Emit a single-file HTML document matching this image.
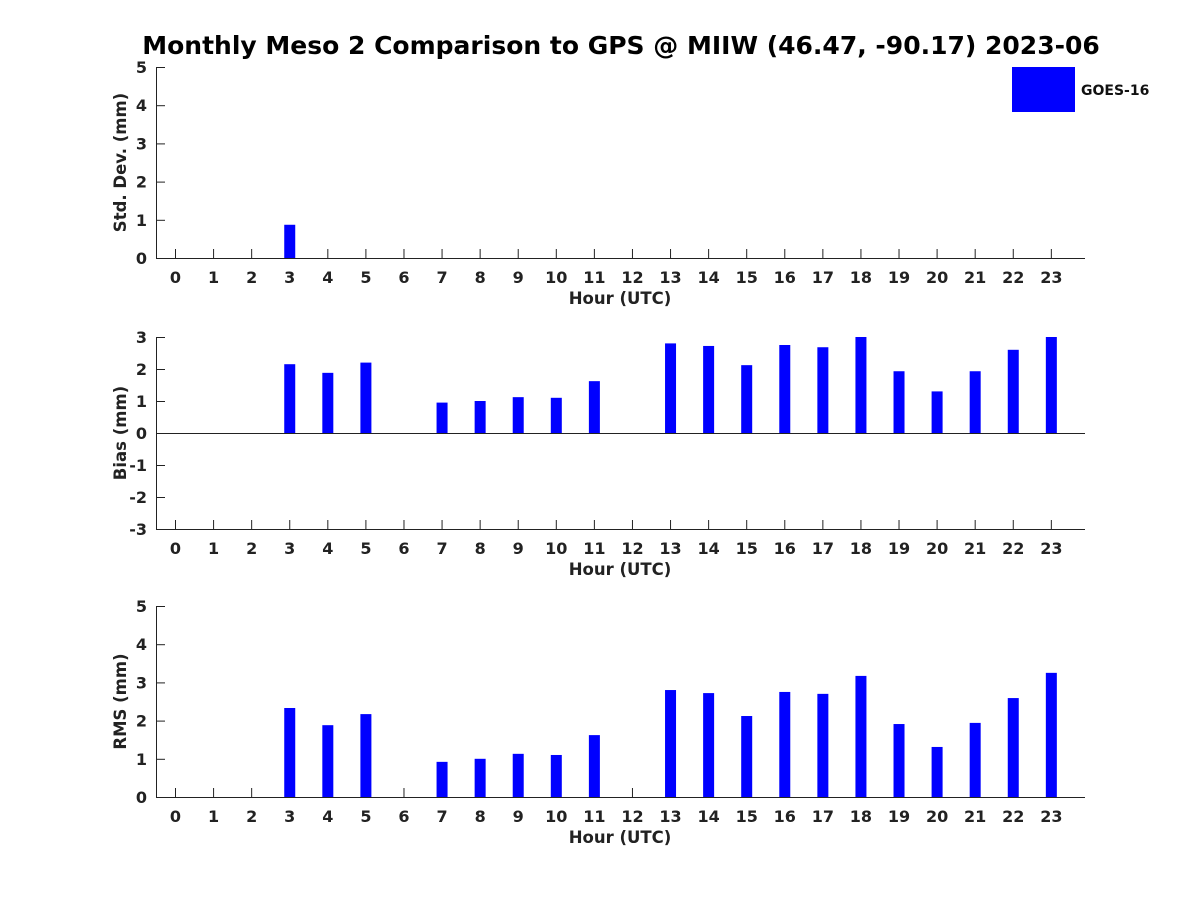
<!DOCTYPE html>
<html><head><meta charset="utf-8"><style>
body{margin:0;background:#fff;}
svg{display:block;font-family:"DejaVu Sans","Liberation Sans",sans-serif;font-weight:bold;}
</style></head><body>
<svg id="c" width="1200" height="900" viewBox="0 0 1200 900">
<text x="621" y="54" text-anchor="middle" font-size="25" fill="#000">Monthly Meso 2 Comparison to GPS @ MIIW (46.47, -90.17) 2023-06</text>
<rect x="1012" y="67" width="63" height="45" fill="#0000ff"/>
<text x="1081" y="95" font-size="14" fill="#111">GOES-16</text>
</svg>
<script>
const hours=[0,1,2,3,4,5,6,7,8,9,10,11,12,13,14,15,16,17,18,19,20,21,22,23];
const stdVals=[null,null,null,0.87,null,null,null,null,null,null,null,null,null,null,null,null,null,null,null,null,null,null,null,null];
const biasVals=[null,null,null,2.15,1.88,2.2,null,0.95,1.0,1.12,1.1,1.62,null,2.8,2.72,2.12,2.75,2.68,3.1,1.93,1.3,1.93,2.6,3.2];
const rmsVals=[null,null,null,2.33,1.88,2.17,null,0.92,1.0,1.13,1.1,1.62,null,2.8,2.72,2.12,2.75,2.7,3.17,1.91,1.31,1.94,2.59,3.25];
const stdTicks=[0,1,2,3,4,5];
const biasTicks=[-3,-2,-1,0,1,2,3];
const rmsTicks=[0,1,2,3,4,5];
const NS="http://www.w3.org/2000/svg";
const svg=document.getElementById('c');
function mk(tag,attrs,parent){const e=document.createElementNS(NS,tag);for(const k in attrs)e.setAttribute(k,attrs[k]);(parent||svg).appendChild(e);return e;}
const x0=156,x1=1085;
function xs(h){return 175.5+h*38.08;}
function panel(key,top,bottom,ymin,ymax,ticks,vals,title){
  const g=mk('g',{});
  
  
  const ys=v=>bottom-(v-ymin)/(ymax-ymin)*(bottom-top);
  const cid='clip-'+key;
  const cp=mk('clipPath',{id:cid},g);mk('rect',{x:x0,y:top,width:x1-x0,height:bottom-top},cp);
  // x ticks first (bars cover them)
  hours.forEach(h=>{
    mk('line',{x1:xs(h),x2:xs(h),y1:bottom,y2:bottom-9,stroke:'#222','stroke-width':1},g);
    const t=mk('text',{x:xs(h),y:bottom+25,'text-anchor':'middle','font-size':16,fill:'#222'},g);
    t.textContent=h;
    
    
  });
  vals.forEach((v,i)=>{
    if(v==null)return;
    const y0=ys(Math.max(0,ymin)),yv=ys(v);
    const r=mk('rect',{x:xs(hours[i])-5.5,y:Math.min(y0,yv),width:11,height:Math.abs(y0-yv),fill:'#0000ff','clip-path':'url(#'+cid+')'},g);
    
    
  });
  mk('line',{x1:x0,x2:x1,y1:bottom+0.5,y2:bottom+0.5,stroke:'#222','stroke-width':1},g);
  mk('line',{x1:x0+0.5,x2:x0+0.5,y1:top,y2:bottom,stroke:'#222','stroke-width':1},g);
  if(ymin<0) mk('line',{x1:x0,x2:x1,y1:ys(0)+0.5,y2:ys(0)+0.5,stroke:'#222','stroke-width':1},g);
  ticks.forEach(v=>{
    mk('line',{x1:x0,x2:x0+9,y1:ys(v)+0.5,y2:ys(v)+0.5,stroke:'#222','stroke-width':1},g);
    const t=mk('text',{x:x0-9,y:ys(v)+6,'text-anchor':'end','font-size':16,fill:'#222'},g);
    t.textContent=v;
    
    
  });
  const xt=mk('text',{x:620,y:bottom+46,'text-anchor':'middle','font-size':16.5,fill:'#222'},g);
  xt.textContent='Hour (UTC)';
  
  
  const cy=(top+bottom)/2;
  const yt=mk('text',{x:126,y:cy,'text-anchor':'middle','font-size':16.5,fill:'#222',transform:'rotate(-90 126 '+cy+')'},g);
  yt.textContent=title;
  
  
}
panel('std',67,258,0,5,stdTicks,stdVals,'Std. Dev. (mm)');
panel('bias',337,529,-3,3,biasTicks,biasVals,'Bias (mm)');
panel('rms',606,797,0,5,rmsTicks,rmsVals,'RMS (mm)');
</script>
</body></html>
